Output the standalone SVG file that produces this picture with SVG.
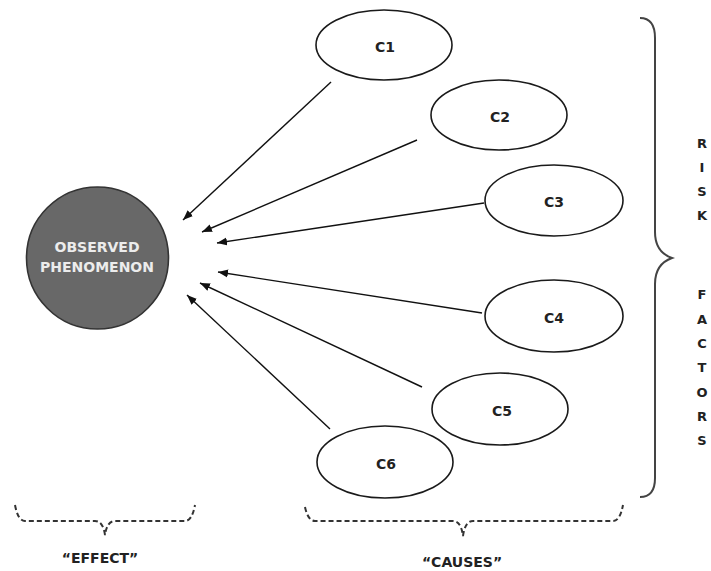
<svg xmlns="http://www.w3.org/2000/svg" width="711" height="571" viewBox="0 0 711 571">
  <style>
    .cause { fill: #ffffff; stroke: #1a1a1a; stroke-width: 1.6; }
    .clabel { font-family: "DejaVu Sans", sans-serif; font-weight: bold; font-size: 14px; fill: #222222; text-anchor: middle; }
    .edge { stroke: #111111; stroke-width: 1.4; fill: none; marker-end: url(#arrow); }
    .brace { fill: none; stroke: #444444; stroke-width: 2; }
    .dbrace { fill: none; stroke: #333333; stroke-width: 2; stroke-dasharray: 5 3; }
    .side { font-family: "DejaVu Sans", sans-serif; font-weight: bold; font-size: 13px; fill: #222222; text-anchor: middle; }
    .cap { font-family: "DejaVu Sans", sans-serif; font-weight: bold; font-size: 14px; fill: #222222; text-anchor: middle; }
  </style>
  <defs>
    <marker id="arrow" viewBox="0 0 10 10" refX="10" refY="5" markerWidth="10" markerHeight="10" markerUnits="userSpaceOnUse" orient="auto">
      <path d="M0,1 L10,5 L0,9 Z" fill="#111111"/>
    </marker>
  </defs>
  <rect width="711" height="571" fill="#ffffff"/>

  <!-- effect node -->
  <g id="observed">
    <circle cx="97.5" cy="258" r="71" fill="#686868" stroke="#333333" stroke-width="1.6"/>
    <text x="97" y="252" font-family="DejaVu Sans, sans-serif" font-weight="bold" font-size="14px" fill="#ececec" text-anchor="middle">OBSERVED</text>
    <text x="97" y="272" font-family="DejaVu Sans, sans-serif" font-weight="bold" font-size="14px" fill="#ececec" text-anchor="middle">PHENOMENON</text>
  </g>

  <!-- cause nodes -->
  <g id="c1"><ellipse class="cause" cx="384" cy="45" rx="68" ry="35"/><text class="clabel" x="385" y="52">C1</text></g>
  <g id="c2"><ellipse class="cause" cx="499" cy="115" rx="68" ry="35"/><text class="clabel" x="500" y="122">C2</text></g>
  <g id="c3"><ellipse class="cause" cx="554" cy="200.5" rx="69" ry="35.5"/><text class="clabel" x="554" y="207">C3</text></g>
  <g id="c4"><ellipse class="cause" cx="554" cy="316" rx="69" ry="36"/><text class="clabel" x="554" y="323">C4</text></g>
  <g id="c5"><ellipse class="cause" cx="500" cy="409" rx="68" ry="36"/><text class="clabel" x="502" y="416">C5</text></g>
  <g id="c6"><ellipse class="cause" cx="385" cy="462" rx="68" ry="36"/><text class="clabel" x="386" y="469">C6</text></g>

  <!-- arrows from causes to effect -->
  <g id="connectors">
    <line class="edge" x1="331" y1="82" x2="183" y2="220"/>
    <line class="edge" x1="417" y1="140" x2="202" y2="232"/>
    <line class="edge" x1="484" y1="203" x2="217" y2="243"/>
    <line class="edge" x1="482" y1="313" x2="218" y2="272"/>
    <line class="edge" x1="422" y1="387" x2="200" y2="283"/>
    <line class="edge" x1="330" y1="429" x2="187" y2="295"/>
  </g>

  <!-- right curly brace and side label -->
  <g id="risk-factors">
    <path class="brace" d="M640,18 Q655,18 655,38 L655,232 Q655,252 672,258 Q655,264 655,284 L655,478 Q655,497 640,497"/>
    <text class="side" x="702" y="148">R</text>
    <text class="side" x="702" y="172">I</text>
    <text class="side" x="702" y="196">S</text>
    <text class="side" x="702" y="220">K</text>
    <text class="side" x="702" y="299">F</text>
    <text class="side" x="702" y="323.5">A</text>
    <text class="side" x="702" y="348">C</text>
    <text class="side" x="702" y="372">T</text>
    <text class="side" x="702" y="397">O</text>
    <text class="side" x="702" y="421">R</text>
    <text class="side" x="702" y="445">S</text>
  </g>

  <!-- dashed braces under the two groups -->
  <g id="effect-label">
    <path class="dbrace" d="M15,505 Q18,521 25,521 L95,521 Q103,521 105,535 Q107,521 115,521 L185,521 Q192,521 195,505"/>
    <text class="cap" x="100" y="563">“EFFECT”</text>
  </g>
  <g id="causes-label">
    <path class="dbrace" d="M305,507 Q308,521 315,521 L453,521 Q461,521 463,536 Q465,521 473,521 L613,521 Q620,521 623,505"/>
    <text class="cap" x="462" y="567">“CAUSES”</text>
  </g>
</svg>
